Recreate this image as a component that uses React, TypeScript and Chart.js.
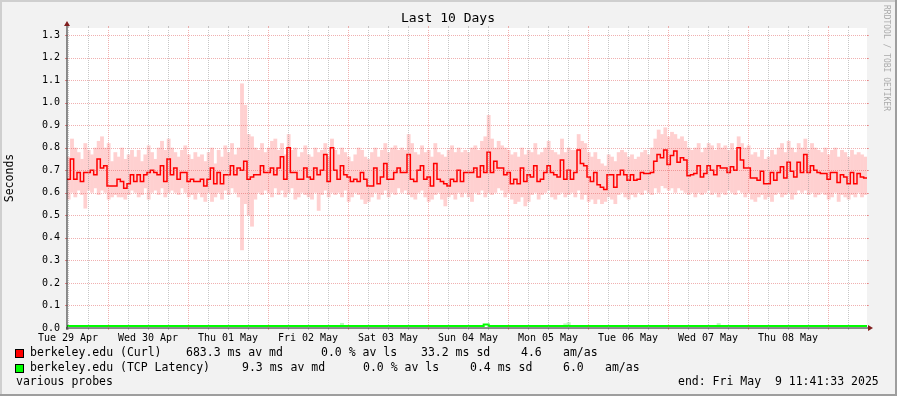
import React, { useEffect, useRef } from 'react';
import { Chart, registerables } from 'chart.js';

Chart.register(...registerables);

const W = 897;
const H = 396;

const chartTitle = 'Last 10 Days';
const yAxisTitle = 'Seconds';
const watermark = 'RRDTOOL / TOBI OETIKER';
const dayLabels = ['Tue 29 Apr', 'Wed 30 Apr', 'Thu 01 May', 'Fri 02 May', 'Sat 03 May', 'Sun 04 May', 'Mon 05 May', 'Tue 06 May', 'Wed 07 May', 'Thu 08 May'];
const startHour = 11 + 41 / 60 + 33 / 3600; // window start: Tue Apr 29 11:41:33
const spanHours = 240;
const yMax = 1.331;
const yStep = 0.1;

// hourly median of the Curl probe (seconds)
const curlMedian = [
  0.66,0.75,0.66,0.69,0.65,0.69,0.69,0.70,0.68,0.75,0.71,0.72,0.63,0.63,0.63,0.66,0.65,0.62,0.64,0.68,
  0.65,0.68,0.65,0.68,0.69,0.70,0.69,0.68,0.72,0.65,0.75,0.68,0.71,0.66,0.69,0.69,0.65,0.66,0.65,0.65,
  0.66,0.63,0.66,0.71,0.64,0.69,0.64,0.68,0.68,0.72,0.68,0.71,0.70,0.74,0.66,0.67,0.68,0.68,0.72,0.69,
  0.69,0.71,0.68,0.71,0.76,0.66,0.80,0.69,0.69,0.66,0.66,0.71,0.67,0.66,0.71,0.68,0.70,0.77,0.65,0.80,
  0.70,0.66,0.72,0.68,0.67,0.65,0.66,0.65,0.69,0.66,0.63,0.63,0.71,0.64,0.67,0.73,0.66,0.66,0.69,0.71,
  0.69,0.69,0.77,0.66,0.65,0.70,0.72,0.66,0.67,0.63,0.73,0.66,0.65,0.64,0.63,0.66,0.65,0.70,0.65,0.69,
  0.69,0.69,0.71,0.67,0.72,0.69,0.78,0.69,0.74,0.71,0.71,0.68,0.69,0.64,0.66,0.64,0.71,0.65,0.68,0.67,
  0.72,0.65,0.66,0.69,0.72,0.69,0.68,0.67,0.745,0.66,0.70,0.66,0.69,0.79,0.73,0.72,0.67,0.65,0.69,0.635,
  0.625,0.615,0.68,0.68,0.625,0.68,0.70,0.68,0.655,0.68,0.655,0.66,0.69,0.685,0.685,0.69,0.74,0.77,0.755,0.79,
  0.725,0.765,0.785,0.735,0.755,0.745,0.675,0.68,0.685,0.72,0.67,0.685,0.72,0.70,0.68,0.72,0.71,0.71,0.69,0.715,
  0.70,0.80,0.745,0.71,0.71,0.665,0.665,0.655,0.695,0.64,0.64,0.69,0.655,0.69,0.715,0.665,0.735,0.695,0.67,0.735,
  0.69,0.77,0.69,0.72,0.70,0.69,0.685,0.685,0.66,0.69,0.69,0.645,0.68,0.67,0.64,0.69,0.64,0.685,0.67,0.665,
];

// hourly smoke range (highest / lowest sample) of the Curl probe
const curlHigh = [
  0.76,0.84,0.80,0.78,0.75,0.82,0.79,0.77,0.80,0.83,0.85,0.80,0.82,0.74,0.78,0.76,0.80,0.75,0.77,0.79,
  0.76,0.79,0.74,0.77,0.81,0.78,0.75,0.80,0.83,0.79,0.84,0.80,0.78,0.76,0.79,0.81,0.77,0.75,0.78,0.76,
  0.77,0.74,0.78,0.80,0.73,0.79,0.76,0.81,0.78,0.82,0.77,0.80,1.085,0.99,0.86,0.85,0.80,0.79,0.82,0.78,
  0.80,0.83,0.84,0.79,0.82,0.77,0.86,0.79,0.80,0.76,0.78,0.81,0.77,0.76,0.80,0.78,0.79,0.82,0.76,0.84,
  0.79,0.77,0.80,0.78,0.76,0.74,0.77,0.80,0.79,0.76,0.75,0.78,0.80,0.76,0.79,0.82,0.78,0.80,0.81,0.79,
  0.80,0.79,0.86,0.82,0.78,0.77,0.81,0.78,0.79,0.76,0.82,0.78,0.77,0.76,0.79,0.81,0.78,0.80,0.78,0.79,
  0.78,0.80,0.81,0.79,0.83,0.85,0.945,0.84,0.80,0.83,0.81,0.80,0.79,0.77,0.78,0.76,0.80,0.77,0.79,0.78,
  0.82,0.77,0.78,0.80,0.83,0.79,0.78,0.77,0.84,0.78,0.80,0.79,0.79,0.86,0.83,0.82,0.78,0.76,0.78,0.75,
  0.73,0.72,0.77,0.76,0.74,0.78,0.79,0.78,0.76,0.77,0.75,0.76,0.78,0.79,0.77,0.80,0.84,0.88,0.86,0.89,
  0.85,0.87,0.86,0.84,0.85,0.83,0.80,0.79,0.80,0.82,0.78,0.80,0.82,0.81,0.79,0.82,0.80,0.81,0.79,0.82,
  0.79,0.85,0.82,0.80,0.81,0.77,0.78,0.76,0.79,0.75,0.76,0.79,0.77,0.80,0.82,0.78,0.83,0.80,0.78,0.82,
  0.80,0.84,0.79,0.82,0.80,0.79,0.78,0.80,0.77,0.79,0.80,0.76,0.79,0.78,0.76,0.79,0.77,0.78,0.77,0.76,
];
const curlLow = [
  0.57,0.60,0.58,0.61,0.59,0.53,0.61,0.60,0.62,0.59,0.61,0.60,0.57,0.58,0.59,0.58,0.58,0.57,0.59,0.61,
  0.60,0.58,0.59,0.62,0.57,0.60,0.61,0.59,0.62,0.58,0.60,0.61,0.60,0.59,0.62,0.60,0.58,0.59,0.57,0.60,
  0.58,0.56,0.60,0.56,0.58,0.60,0.57,0.61,0.59,0.62,0.60,0.58,0.345,0.55,0.50,0.45,0.57,0.60,0.59,0.61,
  0.60,0.58,0.62,0.59,0.61,0.58,0.60,0.62,0.57,0.58,0.60,0.59,0.58,0.57,0.60,0.52,0.59,0.61,0.58,0.60,
  0.59,0.60,0.58,0.61,0.56,0.58,0.60,0.59,0.57,0.55,0.56,0.58,0.60,0.57,0.59,0.61,0.58,0.60,0.59,0.62,
  0.60,0.61,0.59,0.58,0.57,0.60,0.61,0.58,0.56,0.57,0.59,0.60,0.57,0.54,0.58,0.59,0.57,0.60,0.58,0.60,
  0.58,0.56,0.60,0.59,0.61,0.58,0.60,0.59,0.60,0.62,0.61,0.58,0.60,0.57,0.55,0.56,0.58,0.54,0.56,0.59,
  0.60,0.57,0.59,0.60,0.61,0.58,0.57,0.59,0.60,0.58,0.59,0.60,0.58,0.61,0.57,0.59,0.56,0.57,0.55,0.57,
  0.55,0.56,0.58,0.57,0.55,0.59,0.60,0.58,0.57,0.59,0.58,0.60,0.59,0.61,0.60,0.59,0.62,0.60,0.63,0.62,
  0.61,0.62,0.60,0.62,0.61,0.60,0.59,0.60,0.58,0.60,0.59,0.60,0.61,0.59,0.60,0.58,0.60,0.59,0.61,0.60,
  0.59,0.61,0.60,0.58,0.60,0.57,0.56,0.58,0.59,0.57,0.58,0.56,0.59,0.60,0.58,0.59,0.60,0.57,0.59,0.61,
  0.60,0.61,0.59,0.60,0.58,0.59,0.60,0.59,0.57,0.58,0.60,0.56,0.59,0.58,0.57,0.59,0.58,0.60,0.58,0.59,
];

// TCP latency probe: step line (hours from start, seconds)
const tcpTimes = [0, 125, 126.5, 240];
const tcpMedian = [0.0093, 0.016, 0.0093, 0.0093];
const tcpSmokeTimes = [82, 149, 150, 195];
const tcpSmokeHigh = [0.021, 0.019, 0.024, 0.02];

const legendCurl = ['berkeley.edu (Curl)', '683.3 ms av md', '0.0 % av ls', '33.2 ms sd', '4.6', 'am/as'];
const legendTcp = ['berkeley.edu (TCP Latency)', '9.3 ms av md', '0.0 % av ls', '0.4 ms sd', '6.0', 'am/as'];
const footerLeft = 'various probes';
const footerRight = 'end: Fri May  9 11:41:33 2025';

const COL_BG = '#f2f2f2';
const COL_SHADEA = '#cfcfcf';
const COL_SHADEB = '#9e9e9e';
const COL_GRID = 'rgba(143,143,143,0.5)';
const COL_MGRID = 'rgba(222,79,79,0.45)';
const COL_AXIS = '#1f1f1f';
const COL_ARROW = '#801f1f';
const MONO = '"DejaVu Sans Mono", monospace';

const rrdPlugin = {
  id: 'rrdLook',
  beforeDraw(chart: any) {
    const ctx = chart.ctx;
    const a = chart.chartArea;
    ctx.save();
    ctx.fillStyle = COL_BG;
    ctx.fillRect(0, 0, W, H);
    ctx.fillStyle = COL_SHADEA;
    ctx.fillRect(0, 0, W, 2);
    ctx.fillRect(0, 0, 2, H);
    ctx.fillStyle = COL_SHADEB;
    ctx.fillRect(0, H - 2, W, 2);
    ctx.fillRect(W - 2, 0, 2, H);
    ctx.fillStyle = '#ffffff';
    ctx.fillRect(a.left, a.top, a.right - a.left, a.bottom - a.top);
    ctx.restore();
  },
  afterDatasetsDraw(chart: any) {
    const ctx = chart.ctx;
    const a = chart.chartArea;
    const xs = chart.scales.x;
    const ys = chart.scales.y;
    ctx.save();
    ctx.lineWidth = 1;
    // vertical grid (6h minor, midnight major)
    const first = (24 - startHour) % 6;
    for (let t = first; t <= spanHours; t += 6) {
      const hod = Math.round((startHour + t) % 24) % 24;
      const major = hod === 0;
      const x = Math.round(xs.getPixelForValue(t)) + 0.5;
      const col = major ? COL_MGRID : COL_GRID;
      ctx.strokeStyle = col;
      ctx.setLineDash([]);
      ctx.beginPath();
      ctx.moveTo(x, a.bottom);
      ctx.lineTo(x, a.bottom + 2);
      ctx.moveTo(x, a.top - 2);
      ctx.lineTo(x, a.top);
      ctx.stroke();
      ctx.setLineDash([1, 1]);
      ctx.beginPath();
      ctx.moveTo(x, a.bottom - 1);
      ctx.lineTo(x, a.top + 1);
      ctx.stroke();
    }
    // horizontal grid
    for (let k = 1; k * yStep <= yMax; k++) {
      const y = Math.round(ys.getPixelForValue(k * yStep)) + 0.5;
      ctx.strokeStyle = COL_MGRID;
      ctx.setLineDash([]);
      ctx.beginPath();
      ctx.moveTo(a.left - 2, y);
      ctx.lineTo(a.left, y);
      ctx.moveTo(a.right, y);
      ctx.lineTo(a.right + 2, y);
      ctx.stroke();
      ctx.setLineDash([1, 1]);
      ctx.beginPath();
      ctx.moveTo(a.left - 2, y);
      ctx.lineTo(a.right + 2, y);
      ctx.stroke();
    }
    ctx.setLineDash([]);
    // axes
    ctx.strokeStyle = COL_AXIS;
    ctx.beginPath();
    ctx.moveTo(a.left - 1, a.bottom);
    ctx.lineTo(a.right + 2, a.bottom);
    ctx.moveTo(a.left, a.bottom + 2);
    ctx.lineTo(a.left, a.top - 2);
    ctx.stroke();
    // arrows
    ctx.fillStyle = COL_ARROW;
    ctx.beginPath();
    ctx.moveTo(a.left - 3, a.top - 2);
    ctx.lineTo(a.left + 3, a.top - 2);
    ctx.lineTo(a.left, a.top - 7);
    ctx.closePath();
    ctx.fill();
    ctx.beginPath();
    ctx.moveTo(a.right + 1, a.bottom - 3);
    ctx.lineTo(a.right + 1, a.bottom + 3);
    ctx.lineTo(a.right + 6, a.bottom);
    ctx.closePath();
    ctx.fill();
    ctx.restore();
  },
  afterDraw(chart: any) {
    const ctx = chart.ctx;
    const a = chart.chartArea;
    ctx.save();
    ctx.fillStyle = '#000000';
    ctx.textBaseline = 'middle';
    // title
    ctx.font = `13px ${MONO}`;
    ctx.textAlign = 'center';
    ctx.fillText(chartTitle, 448, 19);
    // y axis title
    ctx.font = `11.5px ${MONO}`;
    ctx.save();
    ctx.translate(10, (a.top + a.bottom) / 2);
    ctx.rotate(-Math.PI / 2);
    ctx.fillText(yAxisTitle, 0, 0);
    ctx.restore();
    // watermark
    ctx.save();
    ctx.fillStyle = '#ababab';
    ctx.font = `8px ${MONO}`;
    ctx.textAlign = 'left';
    ctx.translate(886, 5);
    ctx.rotate(Math.PI / 2);
    ctx.fillText(watermark, 0, 0);
    ctx.restore();
    // legend
    ctx.textAlign = 'left';
    ctx.font = `11.5px ${MONO}`;
    const rows = [
      { color: '#ff0000', y: 353.5, texts: legendCurl, xs: [30, 186, 321, 421, 521, 563] },
      { color: '#00ff00', y: 368.5, texts: legendTcp, xs: [30, 242, 363, 470, 563, 605] },
    ];
    rows.forEach((r) => {
      ctx.fillStyle = r.color;
      ctx.fillRect(15, Math.round(r.y - 4.5), 9, 9);
      ctx.strokeStyle = '#000000';
      ctx.lineWidth = 1;
      ctx.strokeRect(15.5, Math.round(r.y - 4.5) + 0.5, 8, 8);
      ctx.fillStyle = '#000000';
      r.texts.forEach((t, i) => ctx.fillText(t, r.xs[i], r.y));
    });
    ctx.fillText(footerLeft, 16, 382.5);
    ctx.fillText(footerRight, 678, 382.5);
    ctx.restore();
  },
};

export default function App() {
  const ref = useRef<HTMLCanvasElement | null>(null);
  useEffect(() => {
    document.body.style.margin = '0';
    const canvas = ref.current;
    if (!canvas) return;

    const medianPts = curlMedian.map((v, i) => ({ x: i, y: v }));
    medianPts.push({ x: spanHours, y: curlMedian[curlMedian.length - 1] });
    const smokePts = curlHigh.map((h, i) => ({ x: i + 0.5, y: [curlLow[i], h] }));
    const tcpPts = tcpTimes.map((t, i) => ({ x: t, y: tcpMedian[i] }));
    const tcpSmokePts = tcpSmokeTimes.map((t, i) => ({ x: t + 0.5, y: [tcpMedian[0], tcpSmokeHigh[i]] }));

    const noonTicks: number[] = [];
    for (let t = (36 - startHour) % 24; t < spanHours; t += 24) noonTicks.push(t);

    const chart = new Chart(canvas, {
      type: 'line',
      data: {
        datasets: [
          {
            type: 'line',
            label: 'curl median',
            data: medianPts,
            borderColor: '#ff0000',
            borderWidth: 1.5,
            pointRadius: 0,
            stepped: true,
            fill: false,
            order: 0,
          } as any,
          {
            type: 'line',
            label: 'tcp median',
            data: tcpPts,
            borderColor: '#00ff00',
            borderWidth: 2,
            pointRadius: 0,
            stepped: true,
            fill: false,
            order: 0,
          } as any,
          {
            type: 'bar',
            label: 'curl smoke',
            data: smokePts,
            backgroundColor: '#ffd0d0',
            borderWidth: 0,
            barPercentage: 1.15,
            categoryPercentage: 1,
            grouped: false,
            order: 2,
          } as any,
          {
            type: 'bar',
            label: 'tcp smoke',
            data: tcpSmokePts,
            backgroundColor: '#bff5bf',
            borderWidth: 0,
            barPercentage: 1,
            categoryPercentage: 1,
            grouped: false,
            order: 1,
          } as any,
        ],
      },
      options: {
        responsive: false,
        animation: false,
        devicePixelRatio: 1,
        events: [],
        layout: { padding: { top: 28, right: 30, left: 0, bottom: 0 } },
        plugins: { legend: { display: false }, title: { display: false }, tooltip: { enabled: false } },
        scales: {
          x: {
            type: 'linear',
            min: 0,
            max: spanHours,
            offset: false,
            grid: { display: false, drawTicks: false },
            border: { display: false },
            afterFit: (s: any) => { s.height = H - 328; },
            afterBuildTicks: (s: any) => { s.ticks = noonTicks.map((v) => ({ value: v })); },
            ticks: {
              autoSkip: false,
              maxRotation: 0,
              minRotation: 0,
              padding: 4,
              color: '#000000',
              font: { family: MONO, size: 10 },
              callback: (_v: any, i: number) => dayLabels[i],
            },
          },
          y: {
            type: 'linear',
            min: 0,
            max: yMax,
            grid: { display: false, drawTicks: false },
            border: { display: false },
            afterFit: (s: any) => { s.width = 67; },
            ticks: {
              stepSize: yStep,
              includeBounds: false,
              padding: 7,
              color: '#000000',
              font: { family: MONO, size: 10 },
              callback: (v: any) => Number(v).toFixed(1),
            },
          },
        },
      } as any,
      plugins: [rrdPlugin],
    });
    return () => chart.destroy();
  }, []);

  return <canvas ref={ref} width={W} height={H} style={{ display: 'block', width: W, height: H }} />;
}
